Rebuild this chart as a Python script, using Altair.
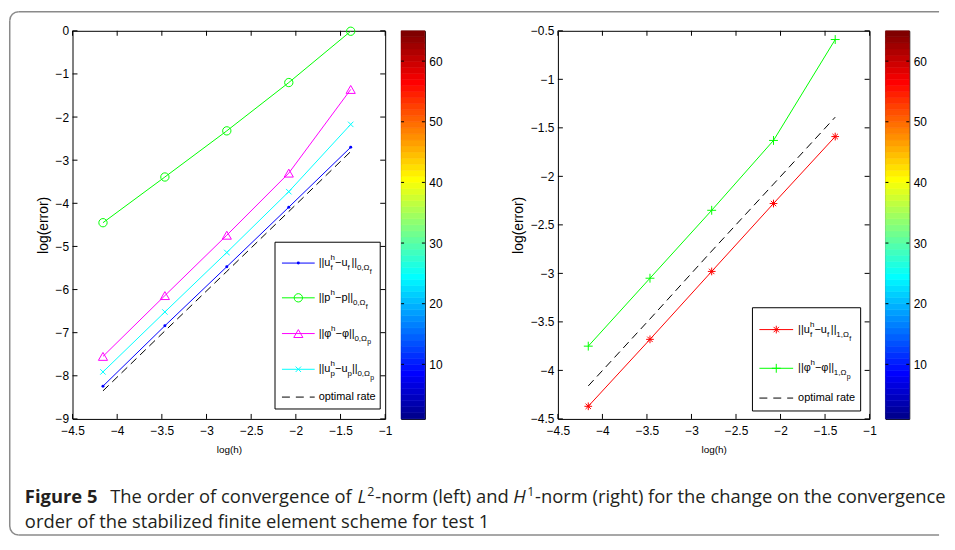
import altair as alt
import pandas as pd

# ---------------- data ----------------
log_h = [-4.159, -3.466, -2.773, -2.079, -1.386]

# left panel: L2-norm errors
l2_uf = [-8.24, -6.84, -5.47, -4.09, -2.70]
l2_p = [-4.45, -3.39, -2.32, -1.20, -0.01]
l2_phi = [-7.55, -6.14, -4.74, -3.30, -1.36]
l2_up = [-7.91, -6.52, -5.14, -3.73, -2.17]
l2_opt = [-8.35, -6.96, -5.58, -4.19, -2.80]

# right panel: H1-norm errors
h1_uf = [-4.37, -3.68, -2.98, -2.28, -1.59]
h1_phi = [-3.75, -3.05, -2.35, -1.63, -0.59]
h1_opt = [-4.16, -3.47, -2.77, -2.08, -1.39]

x_ticks = [-4.5, -4, -3.5, -3, -2.5, -2, -1.5, -1]
left_y_ticks = [-9, -8, -7, -6, -5, -4, -3, -2, -1, 0]
right_y_ticks = [-4.5, -4, -3.5, -3, -2.5, -2, -1.5, -1, -0.5]
cbar_ticks = [10, 20, 30, 40, 50, 60]
cbar_levels = list(range(1, 65))
jet_stops = [1, 8, 24, 40, 56, 64]
jet_colors = ["#00008f", "#0000ff", "#00ffff", "#ffff00", "#ff0000", "#800000"]

# legend labels: (text, x offset, level)
left_labels = [
    [("||u", 0, "m"), ("h", 12, "sup"), ("f", 12, "sub"), ("\u2212u", 16.5, "m"), ("f", 29, "sub"),
     ("||", 33, "m"), ("0,\u03a9", 38.5, "sub"), ("f", 51.5, "ss")],
    [("||p", 0, "m"), ("h", 12, "sup"), ("\u2212p||", 16.5, "m"), ("0,\u03a9", 34.5, "sub"), ("f", 47.5, "ss")],
    [("||\u03c6", 0, "m"), ("h", 12.5, "sup"), ("\u2212\u03c6||", 17, "m"), ("0,\u03a9", 36, "sub"), ("p", 49, "ss")],
    [("||u", 0, "m"), ("h", 12, "sup"), ("p", 12, "sub"), ("\u2212u", 16.5, "m"), ("p", 29, "sub"),
     ("||", 33.5, "m"), ("0,\u03a9", 39, "sub"), ("p", 52, "ss")],
    [("optimal rate", 0, "m")],
]
right_labels = [
    [("||u", 0, "m"), ("h", 12, "sup"), ("f", 12, "sub"), ("\u2212u", 16.5, "m"), ("f", 29, "sub"),
     ("||", 33, "m"), ("1,\u03a9", 38.5, "sub"), ("f", 51.5, "ss")],
    [("||\u03c6", 0, "m"), ("h", 12.5, "sup"), ("\u2212\u03c6||", 17, "m"), ("1,\u03a9", 36, "sub"), ("p", 49, "ss")],
    [("optimal rate", 0, "m")],
]

# caption pieces: (text, page x, style)
caption_line1 = [
    ("Figure 5", 24, "bold"),
    ("The order of convergence of", 110, "normal"),
    ("L", 359, "italic"),
    ("2", 369, "sup"),
    ("-norm (left) and", 377, "normal"),
    ("H", 516, "italic"),
    ("1", 530, "sup"),
    ("-norm (right) for the change on the convergence", 538, "normal"),
]
caption_line2 = [("order of the stabilized finite element scheme for test 1", 24, "normal")]

# ---------------- layout constants ----------------
W_L, W_R, H, CB_W = 315, 314, 391, 24
OX, OY = 72, 28          # page position of the left plot area
GAP = 16
FONT = "Liberation Sans"
CAP_FONT = "Open Sans"
CAP_SIZE = 18.5
FRAME = "#8a8a8a"
ONE = pd.DataFrame({"k": [0]})

X_PATH = "M-1,-1L1,1M-1,1L1,-1"
PLUS_PATH = "M0,-1L0,1M-1,0L1,0"
STAR_PATH = "M0,-1L0,1M-1,0L1,0M-0.7,-0.7L0.7,0.7M-0.7,0.7L0.7,-0.7"

LEVEL = {"m": (11, 0), "sup": (8, -5), "sub": (8, 5), "ss": (7, 9)}


def rich(pieces, x0, y0):
    out = []
    for txt, dx, lvl in pieces:
        size, dy = LEVEL[lvl]
        out.append(
            alt.Chart(ONE)
            .mark_text(text=txt, align="left", baseline="middle", font=FONT, fontSize=size, color="black")
            .encode(x=alt.value(x0 + dx), y=alt.value(y0 + dy))
        )
    return out


def val_rule(x, y, x2=None, y2=None, color="black", width=1, dash=None):
    enc = dict(x=alt.value(x), y=alt.value(y))
    if x2 is not None:
        enc["x2"] = alt.value(x2)
    if y2 is not None:
        enc["y2"] = alt.value(y2)
    kw = dict(color=color, strokeWidth=width)
    if dash:
        kw["strokeDash"] = dash
    return alt.Chart(ONE).mark_rule(**kw).encode(**enc)


def marker(s, x, y):
    return (
        alt.Chart(ONE)
        .mark_point(shape=s["shape"], size=s["size"], filled=s["filled"], color=s["color"],
                    strokeWidth=1, opacity=1)
        .encode(x=alt.value(x), y=alt.value(y))
    )


def panel(series, y_dom, y_ticks, W, box, rows_y, labels, line_x, text_x):
    xs = alt.Scale(domain=[-4.5, -1], nice=False, zero=False)
    ys = alt.Scale(domain=y_dom, nice=False, zero=False)
    X = alt.X("log_h:Q", scale=xs, title="log(h)",
              axis=alt.Axis(values=x_ticks, format="~g", labelFlush=False, titleFontSize=10,
                            titlePadding=8, labelPadding=7))
    Y = alt.Y("err:Q", scale=ys, title="log(error)",
              axis=alt.Axis(values=y_ticks, format="~g", labelFlush=False, titleFontSize=14,
                            titlePadding=5, labelPadding=4))
    layers = []
    # inward ticks on all four sides
    xt = alt.Chart(pd.DataFrame({"log_h": x_ticks})).mark_rule(color="black", strokeWidth=1)
    layers += [xt.encode(x=X, y=alt.value(H), y2=alt.value(H - 5)),
               xt.encode(x=X, y=alt.value(0), y2=alt.value(5))]
    yt = alt.Chart(pd.DataFrame({"err": y_ticks})).mark_rule(color="black", strokeWidth=1)
    layers += [yt.encode(y=Y, x=alt.value(0), x2=alt.value(5)),
               yt.encode(y=Y, x=alt.value(W), x2=alt.value(W - 5))]
    # series
    for s in series:
        df = pd.DataFrame({"log_h": log_h, "err": s["vals"]})
        base = alt.Chart(df).encode(x=X, y=Y)
        kw = dict(color=s["color"], strokeWidth=1)
        if s.get("dash"):
            kw["strokeDash"] = s["dash"]
        layers.append(base.mark_line(**kw))
        if s.get("shape"):
            layers.append(base.mark_point(shape=s["shape"], size=s["size"], filled=s["filled"],
                                          color=s["color"], strokeWidth=1, opacity=1))
    # legend box
    layers.append(
        alt.Chart(ONE).mark_rect(fill="white", stroke="black", strokeWidth=1)
        .encode(x=alt.value(box[0]), x2=alt.value(box[1]), y=alt.value(box[2]), y2=alt.value(box[3]))
    )
    for s, ry, lab in zip(series, rows_y, labels):
        layers.append(val_rule(line_x[0], ry, x2=line_x[1], color=s["color"],
                               dash=[8, 6] if s.get("dash") else None))
        if s.get("shape"):
            layers.append(marker(s, (line_x[0] + line_x[1]) / 2, ry))
        layers += rich(lab, text_x, ry)
    return layers


def colorbar():
    cbs = alt.Scale(domain=[1, 65], nice=False, zero=False)
    Yc = alt.Y("lo:Q", scale=cbs, title=None,
               axis=alt.Axis(orient="right", values=cbar_ticks, labelFlush=False, labelPadding=4))
    jet = alt.Scale(domain=jet_stops, range=jet_colors, interpolate="rgb")
    df = pd.DataFrame({"lo": cbar_levels, "hi": [v + 1 for v in cbar_levels]})
    rect = alt.Chart(df).mark_rect(strokeWidth=0.6).encode(
        y=Yc, y2="hi:Q", x=alt.value(0), x2=alt.value(CB_W),
        color=alt.Color("lo:Q", scale=jet, legend=None),
        stroke=alt.Stroke("lo:Q", scale=jet, legend=None),
    )
    t = alt.Chart(pd.DataFrame({"lo": cbar_ticks})).mark_rule(color="black", strokeWidth=1)
    ticks = [t.encode(y=Yc, x=alt.value(0), x2=alt.value(3)),
             t.encode(y=Yc, x=alt.value(CB_W), x2=alt.value(CB_W - 3))]
    return alt.layer(rect, *ticks).properties(width=CB_W, height=H)


left_series = [
    dict(vals=l2_uf, color="#0000ff", shape="circle", filled=True, size=9),
    dict(vals=l2_p, color="#00ff00", shape="circle", filled=False, size=70),
    dict(vals=l2_phi, color="#ff00ff", shape="triangle-up", filled=False, size=85),
    dict(vals=l2_up, color="#00ffff", shape=X_PATH, filled=False, size=30),
    dict(vals=l2_opt, color="#000000", shape=None, dash=[8, 5]),
]
right_series = [
    dict(vals=h1_uf, color="#ff0000", shape=STAR_PATH, filled=False, size=60),
    dict(vals=h1_phi, color="#00ff00", shape=PLUS_PATH, filled=False, size=80),
    dict(vals=h1_opt, color="#000000", shape=None, dash=[8, 5]),
]

left_layers = panel(left_series, [-9, 0], left_y_ticks, W_L,
                    box=(276 - OX, 382 - OX, 241 - OY, 409 - OY),
                    rows_y=[262 - OY, 297 - OY, 333 - OY, 369 - OY, 397 - OY],
                    labels=left_labels, line_x=(283 - OX, 316 - OX), text_x=320 - OX)

RX = 561
right_layers = panel(right_series, [-4.5, -0.5], right_y_ticks, W_R,
                     box=(757 - RX, 866 - RX, 307 - OY, 411 - OY),
                     rows_y=[329 - OY, 368 - OY, 398 - OY],
                     labels=right_labels, line_x=(764 - RX, 798 - RX), text_x=803 - RX)

# ---------------- frame and caption (drawn from the left panel) ----------------
fl, ft, fb, fr, R = 8.75 - OX, 8.75 - OY, 536 - OY, 945 - OX, 9
frame = [
    val_rule(fl + R, ft, x2=fr, color=FRAME, width=1.5),
    val_rule(fl + R, fb, x2=fr, color=FRAME, width=1.5),
    val_rule(fl, ft + R, y2=fb - R, color=FRAME, width=1.5),
    alt.Chart(ONE).mark_arc(radius=R + 0.75, radius2=R - 0.75, theta=4.7124, theta2=6.2832, color=FRAME)
    .encode(x=alt.value(fl + R), y=alt.value(ft + R)),
    alt.Chart(ONE).mark_arc(radius=R + 0.75, radius2=R - 0.75, theta=3.1416, theta2=4.7124, color=FRAME)
    .encode(x=alt.value(fl + R), y=alt.value(fb - R)),
]

caption = []
for line, base_y in ((caption_line1, 504), (caption_line2, 529)):
    for txt, px, style in line:
        kw = dict(text=txt, align="left", baseline="alphabetic", font=CAP_FONT, fontSize=CAP_SIZE,
                  color="#231f20")
        dy = 0
        if style == "bold":
            kw["fontWeight"] = "bold"
        elif style == "italic":
            kw["fontStyle"] = "italic"
        elif style == "sup":
            kw["fontSize"] = 12.5
            dy = -7
        caption.append(alt.Chart(ONE).mark_text(**kw)
                       .encode(x=alt.value(px - OX), y=alt.value(base_y - OY + dy)))

left = alt.layer(*left_layers, *frame, *caption).properties(width=W_L, height=H)
right = alt.layer(*right_layers).properties(width=W_R, height=H)

# empty spacer so the right panel starts at the same place as in the figure
spacer_w = (RX - OX) - (W_L + GAP + CB_W + GAP) - GAP
spacer = (
    alt.Chart(ONE).mark_point(opacity=0).encode(x=alt.value(0), y=alt.value(0))
    .properties(width=spacer_w, height=H, view=alt.ViewBackground(stroke="transparent"))
)

chart = alt.hconcat(
    left, colorbar(), spacer, right, colorbar(),
    spacing=GAP, bounds="flush", padding=0,
).configure(background="white").configure_view(stroke="black", strokeWidth=1).configure_axis(
    labelFont=FONT, labelFontSize=12, labelColor="black", titleFont=FONT, titleColor="black",
    titleFontWeight="normal", ticks=False, domain=False, grid=False,
)

chart.save("out.html", embed_options={"renderer": "svg", "actions": False})
